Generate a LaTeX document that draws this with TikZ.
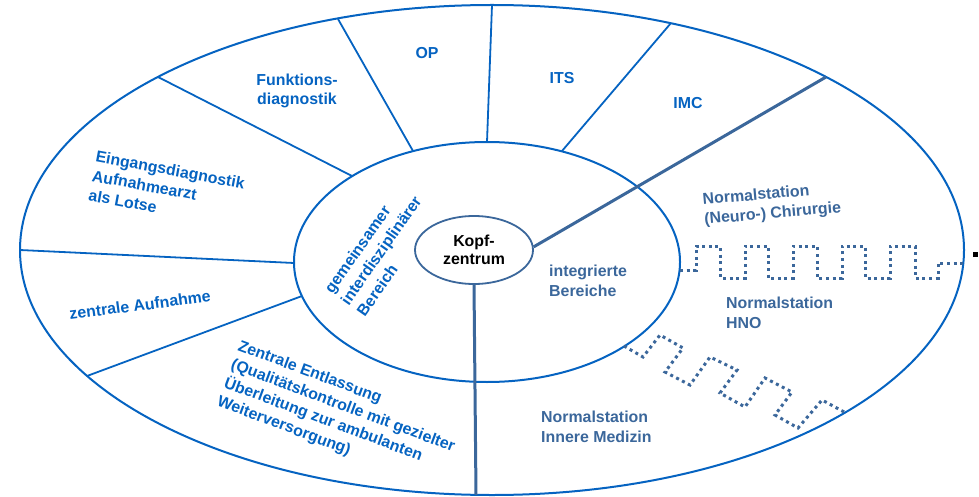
\documentclass[tikz,border=0pt]{standalone}
\usepackage{fontspec}
\setmainfont{Liberation Sans}
\usetikzlibrary{shapes.geometric}
\definecolor{ringblue}{HTML}{0563C1}
\definecolor{steel}{HTML}{3B679B}

\begin{document}
\begin{tikzpicture}[x=1pt,y=-1pt,
  lbl/.style={font=\fontsize{15.9}{19.8}\selectfont\bfseries, inner sep=0pt},
  bluetext/.style={lbl, text=ringblue},
  steeltext/.style={lbl, text=steel},
  ring/.style={draw=ringblue, line width=2pt},
  divider/.style={draw=ringblue, line width=1.8pt},
  spoke/.style={draw=steel, line width=3pt},
  boundary/.style={draw=steel, line width=3pt, dash pattern=on 3pt off 3.6pt},
  core/.style={ellipse, draw=steel, line width=1.8pt, minimum width=118pt,
    minimum height=68pt, inner sep=0pt, align=center,
    font=\fontsize{15.9}{18}\selectfont\bfseries}
]
\useasboundingbox (0,0) rectangle (979,497);

% rings
\draw[ring] (492,250) ellipse [x radius=472pt, y radius=245pt];
\draw[ring] (487,262) ellipse [x radius=193pt, y radius=120pt];
\node[core, fill=white] (kopf) at (474,250) {Kopf-\\zentrum};

% points on the middle ring
\coordinate (m1) at (487,142);
\coordinate (m2) at (413,151);
\coordinate (m3) at (352,176);
\coordinate (m4) at (294,263);
\coordinate (m5) at (302,296);
\coordinate (m6) at (562,151);
% points on the outer ring
\coordinate (o1) at (492,5);
\coordinate (o2) at (338,19);
\coordinate (o3) at (158,77);
\coordinate (o4) at (20,250);
\coordinate (o5) at (87,376);
\coordinate (o6) at (671,23);
\coordinate (o7) at (826,77);
\coordinate (o8) at (476,495);

% sector dividers
\draw[divider] (m1) -- (o1);
\draw[divider] (m2) -- (o2);
\draw[divider] (m3) -- (o3);
\draw[divider] (m4) -- (o4);
\draw[divider] (m5) -- (o5);
\draw[divider] (m6) -- (o6);

% spokes from the core
\draw[spoke] (kopf.3) -- (o7);
\draw[spoke] (kopf.south) -- (o8);

% ward boundaries
\coordinate (w1s) at (680,270);
\coordinate (w1e) at (963,263);
\draw[boundary] (w1s) -- (696,270) -- (696,246) -- (720,246) -- (720,278)
  -- (745,278) -- (745,246) -- (768,246) -- (768,278) -- (793,278)
  -- (793,246) -- (817,246) -- (817,278) -- (842,278) -- (842,246)
  -- (865,246) -- (865,278) -- (890,278) -- (890,246) -- (915,246)
  -- (915,278) -- (938,278) -- (938,263) -- (w1e);
\coordinate (w2s) at (624,346);
\coordinate (w2e) at (846,413);
\draw[boundary] (w2s) -- (643,357) -- (660,335) -- (683,348) -- (665,372)
  -- (690,385) -- (710,357) -- (737,370) -- (720,393) -- (745,407)
  -- (765,378) -- (792,392) -- (775,415) -- (798,428) -- (822,400)
  -- (w2e);

\fill (973,252) rectangle (978,257);

% labels
\node[bluetext] (op) at (427,53) {OP};
\node[bluetext, align=center] (funk) at (297,91) {Funktions-\\diagnostik};
\node[bluetext] (its) at (562,78) {ITS};
\node[bluetext] (imc) at (688,103) {IMC};
\node[bluetext, align=left, rotate=-10.5, anchor=north west] (eing) at (97,150)
  {Eingangsdiagnostik\\Aufnahmearzt\\als Lotse};
\node[bluetext, rotate=7.5] (zauf) at (140,305) {zentrale Aufnahme};
\node[bluetext, align=left, rotate=-20.5, anchor=north west] (entl) at (241,339)
  {Zentrale Entlassung\\(Qualitätskontrolle mit gezielter\\Überleitung zur ambulanten\\Weiterversorgung)};
\node[bluetext, align=left, rotate=55, anchor=west] (gem) at (344,303)
  {gemeinsamer\\interdisziplinärer\\Bereich};
\node[steeltext, align=left, anchor=west] (integ) at (549,281) {integrierte\\Bereiche};
\node[steeltext, align=left, rotate=5, anchor=north west] (chir) at (702,193)
  {Normalstation\\(Neuro-) Chirurgie};
\node[steeltext, align=left, anchor=west] (hno) at (726,313) {Normalstation\\HNO};
\node[steeltext, align=left, anchor=west] (inn) at (541,427) {Normalstation\\Innere Medizin};
\end{tikzpicture}
\end{document}
